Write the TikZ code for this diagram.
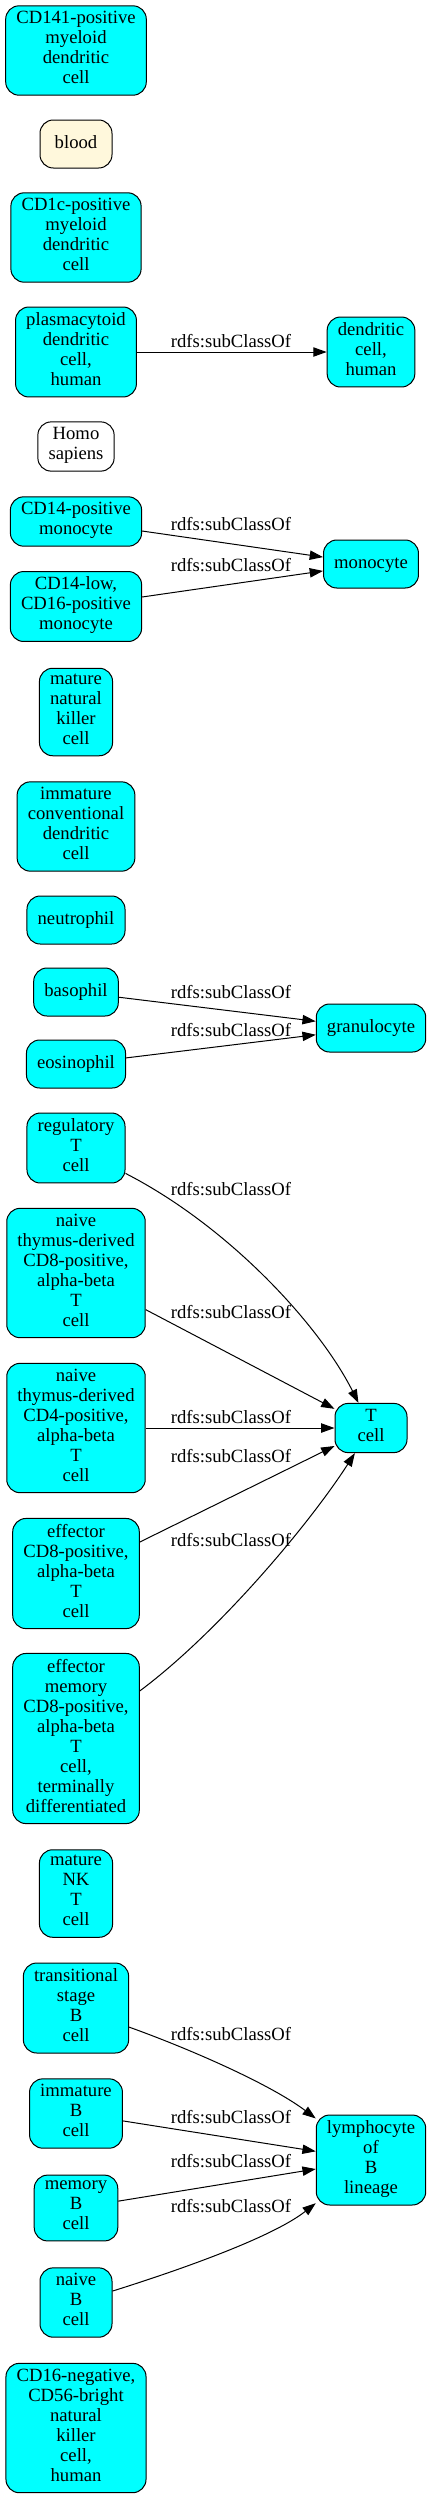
\documentclass[tikz,border=0pt]{standalone}
\usepackage{fontspec}
\setmainfont{Liberation Serif}
\usepackage{tikz}
\usetikzlibrary{arrows.meta}
\definecolor{cornsilk}{HTML}{FFF8DC}
\definecolor{clscyan}{RGB}{0,255,255}

\begin{document}
\begin{tikzpicture}[
  x=0.75pt, y=-0.75pt, >={Triangle[length=10pt, width=7pt]},
  every node/.style={font=\fontsize{14}{15}\selectfont},
  box/.style={draw, line width=0.75pt, rounded corners=10pt, fill=clscyan,
              minimum width=54pt, minimum height=36pt, inner xsep=8pt,
              inner ysep=4.125pt, align=center,
              execute at begin node=\strut, execute at end node=\strut},
  lbl/.style={inner sep=0pt},
  subof/.style={->, line width=0.75pt}
]
  \useasboundingbox (0,0) rectangle (432,2499);

  \node[box] (cd141) at (76,50.5) {CD141-positive\\myeloid\\dendritic\\cell};
  \node[box, fill=cornsilk] (blood) at (76,144) {blood};
  \node[box] (cd1c) at (76,237.5) {CD1c-positive\\myeloid\\dendritic\\cell};
  \node[box] (pdc) at (76,352) {plasmacytoid\\dendritic\\cell,\\human};
  \node[box] (dchuman) at (371,352) {dendritic\\cell,\\human};
  \node[box, fill=white] (homo) at (76,446.5) {Homo\\sapiens};
  \node[box] (cd14pos) at (76,521.5) {CD14-positive\\monocyte};
  \node[box] (cd14low) at (76,606.5) {CD14-low,\\CD16-positive\\monocyte};
  \node[box] (monocyte) at (371,564) {monocyte};
  \node[box] (nk) at (76,712) {mature\\natural\\killer\\cell};
  \node[box] (icdc) at (76,826.5) {immature\\conventional\\dendritic\\cell};
  \node[box] (neutro) at (76,920) {neutrophil};
  \node[box] (baso) at (76,992) {basophil};
  \node[box] (eosino) at (76,1064) {eosinophil};
  \node[box] (granulo) at (371,1028) {granulocyte};
  \node[box] (treg) at (76,1148) {regulatory\\T\\cell};
  \node[box] (naive8) at (76,1273) {naive\\thymus-derived\\CD8-positive,\\alpha-beta\\T\\cell};
  \node[box] (naive4) at (76,1428) {naive\\thymus-derived\\CD4-positive,\\alpha-beta\\T\\cell};
  \node[box] (tcell) at (371,1428) {T\\cell};
  \node[box] (eff8) at (76,1573.5) {effector\\CD8-positive,\\alpha-beta\\T\\cell};
  \node[box] (effmem) at (76,1738.5) {effector\\memory\\CD8-positive,\\alpha-beta\\T\\cell,\\terminally\\differentiated};
  \node[box] (nkt) at (76,1893.5) {mature\\NK\\T\\cell};
  \node[box] (transb) at (76,2008) {transitional\\stage\\B\\cell};
  \node[box] (immb) at (76,2113.5) {immature\\B\\cell};
  \node[box] (memb) at (76,2208) {memory\\B\\cell};
  \node[box] (naiveb) at (76,2302.5) {naive\\B\\cell};
  \node[box] (blin) at (371,2160) {lymphocyte\\of\\B\\lineage};
  \node[box] (cd56) at (76,2428) {CD16-negative,\\CD56-bright\\natural\\killer\\cell,\\human};

  \draw[subof] (pdc) -- (dchuman) node[lbl] at (231,341) {rdfs:subClassOf};
  \draw[subof] (cd14pos) -- (monocyte) node[lbl] at (231,524) {rdfs:subClassOf};
  \draw[subof] (cd14low) -- (monocyte) node[lbl] at (231,565) {rdfs:subClassOf};
  \draw[subof] (baso) -- (granulo) node[lbl] at (231,992) {rdfs:subClassOf};
  \draw[subof] (eosino) -- (granulo) node[lbl] at (231,1030) {rdfs:subClassOf};
  \draw[subof] (treg) .. controls (230,1227) and (320,1326) .. (tcell)
    node[lbl] at (231,1189) {rdfs:subClassOf};
  \draw[subof] (naive8) -- (tcell) node[lbl] at (231,1312) {rdfs:subClassOf};
  \draw[subof] (naive4) -- (tcell) node[lbl] at (231,1417) {rdfs:subClassOf};
  \draw[subof] (eff8) -- (tcell) node[lbl] at (231,1456) {rdfs:subClassOf};
  \draw[subof] (effmem) .. controls (220,1631) and (310,1523) .. (tcell)
    node[lbl] at (231,1540) {rdfs:subClassOf};
  \draw[subof] (transb) .. controls (190,2049) and (270,2084) .. (blin)
    node[lbl] at (231,2034) {rdfs:subClassOf};
  \draw[subof] (immb) -- (blin) node[lbl] at (231,2117) {rdfs:subClassOf};
  \draw[subof] (memb) -- (blin) node[lbl] at (231,2161) {rdfs:subClassOf};
  \draw[subof] (naiveb) .. controls (170,2273) and (270,2239) .. (blin)
    node[lbl] at (231,2206) {rdfs:subClassOf};
\end{tikzpicture}
\end{document}
